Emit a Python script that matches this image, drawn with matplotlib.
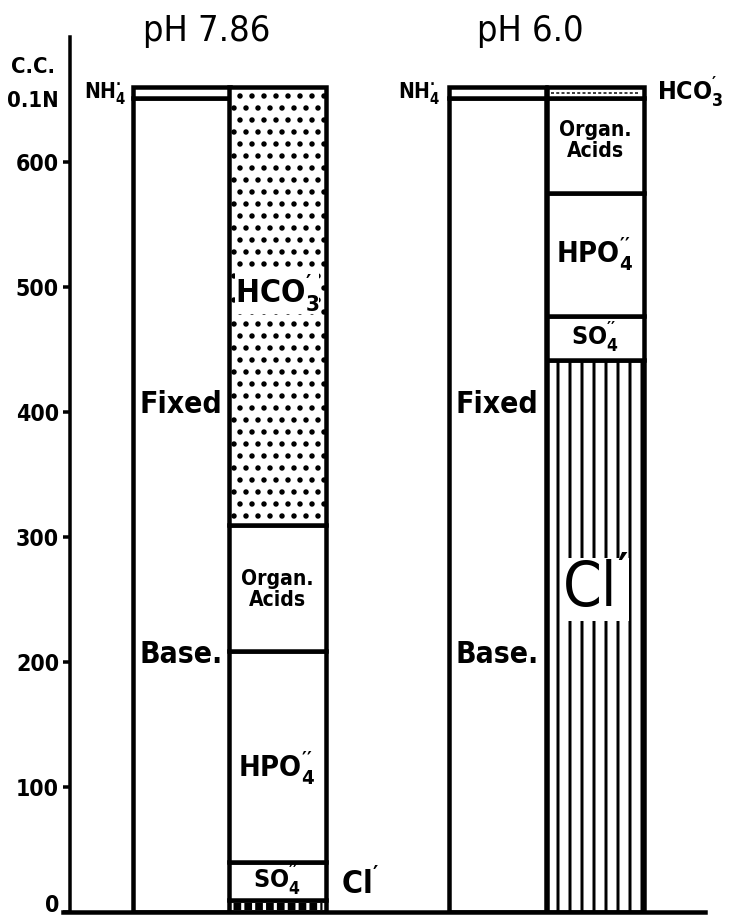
import matplotlib.pyplot as plt

# milliequivalents (c.c. 0.1 N) of bases and acids in urine at two pH levels

PH_LABELS = ["pH 7.86", "pH 6.0"]

# bases column
FIXED_BASE = [651, 651]
NH4 = [9, 9]

# acids column, stacked from the bottom
CL = [10, 442]
SO4 = [30, 35]
HPO4 = [169, 98]
ORGAN = [101, 76]
HCO3 = [350, 9]

Y_TICKS = [0, 100, 200, 300, 400, 500, 600]

# layout (x in pixel offsets from the axes' left edge)
BASE_X = [118, 434]
ACID_X = [214, 532]
BAR_W = 97

plt.rcParams['font.family'] = ['DejaVu Sans']
plt.rcParams['font.stretch'] = 'condensed'
plt.rcParams['font.weight'] = 'bold'
plt.rcParams['mathtext.fontset'] = 'custom'
plt.rcParams['mathtext.rm'] = 'DejaVu Sans:bold:stretch=condensed'
plt.rcParams['mathtext.it'] = 'DejaVu Sans:bold:stretch=condensed'
plt.rcParams['mathtext.bf'] = 'DejaVu Sans:bold:stretch=condensed'
plt.rcParams['hatch.linewidth'] = 3.0
plt.rcParams['hatch.color'] = 'black'


def main():
    fig = plt.figure(figsize=(729 / 72, 924 / 72), dpi=72)
    ax = fig.add_axes([63 / 729, 12 / 924, 642 / 729, 875 / 924])
    ax.set_xlim(0, 642)
    ax.set_ylim(0, 700)

    lw = 4.5
    # bases: fixed base + NH4
    ax.bar(BASE_X, FIXED_BASE, width=BAR_W, color='white', edgecolor='black', linewidth=lw)
    ax.bar(BASE_X, NH4, bottom=FIXED_BASE, width=BAR_W, color='white', edgecolor='black', linewidth=lw)

    # acids
    bottom = [0, 0]
    segs = [("cl", CL), ("so4", SO4), ("hpo4", HPO4), ("organ", ORGAN), ("hco3", HCO3)]
    mids = {}
    for name, vals in segs:
        for i in range(2):
            hatch = None
            if name == "hco3" and i == 0:
                hatch = '.'
            if name == "cl" and i == 1:
                hatch = '|'
            ax.bar(ACID_X[i], vals[i], bottom=bottom[i], width=BAR_W, color='white',
                   edgecolor='black', linewidth=lw, hatch=hatch)
        mids[name] = [bottom[i] + vals[i] / 2 for i in range(2)]
        bottom = [bottom[i] + vals[i] for i in range(2)]

    # little dashed strip for Cl at pH 7.86
    ax.hlines(CL[0] / 2, ACID_X[0] - BAR_W / 2 + 4, ACID_X[0] + BAR_W / 2 - 4,
              colors='black', linewidth=7, linestyles=(0, (1.1, 0.45)))
    # wavy trace of HCO3 at pH 6.0
    ax.hlines(mids["hco3"][1], ACID_X[1] - BAR_W / 2 + 4, ACID_X[1] + BAR_W / 2 - 4,
              colors='black', linewidth=1.5, linestyles=(0, (2, 1.5)))

    # axes styling
    for s in ['top', 'right']:
        ax.spines[s].set_visible(False)
    ax.spines['left'].set_position(('data', 7))
    ax.spines['left'].set_linewidth(3.5)
    ax.spines['bottom'].set_linewidth(4.5)
    ax.set_xticks([])
    ax.set_yticks(Y_TICKS)
    ax.set_yticklabels([str(t) for t in Y_TICKS])
    ax.tick_params(axis='y', length=7, width=3.5, pad=4, labelsize=23)
    for lab in ax.get_yticklabels():
        lab.set_fontweight('bold')
        lab.set_fontstretch('condensed')
    # keep the "0" inside the picture
    ax.get_yticklabels()[0].set_verticalalignment('baseline')

    txt = dict(ha='center', va='center', fontweight='bold', color='black')

    ax.text(-30, 676, "C.C.", fontsize=22, **txt)
    ax.text(-30, 649, "0.1N", fontsize=22, **txt)

    for i in range(2):
        ax.text([144, 467][i], 705, PH_LABELS[i], fontsize=36,
                ha='center', va='center', fontweight='normal')
        ax.text(BASE_X[i], 406, "Fixed", fontsize=30, **txt)
        ax.text(BASE_X[i], 206, "Base.", fontsize=30, **txt)
        ax.text(ACID_X[i], [258, 617][i], "Organ.\nAcids", fontsize=21, linespacing=1.05, **txt)
        ax.text(ACID_X[i], [115, mids["hpo4"][1]][i], r"HPO$_4^{\prime\prime}$", fontsize=29, **txt)
        ax.text(ACID_X[i], mids["so4"][i], r"SO$_4^{\prime\prime}$", fontsize=25, **txt)
        ax.text([42, 356][i], 655, r"NH$_4^{\bullet}$", fontsize=21, **txt)

    ax.text(ACID_X[0], 495, r"HCO$_3^{\prime}$", fontsize=32,
            bbox=dict(facecolor='white', edgecolor='none', pad=0), **txt)
    ax.text(627, 655, r"HCO$_3^{\prime}$", fontsize=25, **txt)
    ax.text(297, 22, r"Cl$^{\prime}$", fontsize=32, **txt)
    ax.text(ACID_X[1], 258, r"Cl$^{\prime}$", fontsize=62, fontweight='normal',
            ha='center', va='center',
            bbox=dict(facecolor='white', edgecolor='none', pad=1))

    fig.savefig("out.png", dpi=72)


if __name__ == "__main__":
    main()
